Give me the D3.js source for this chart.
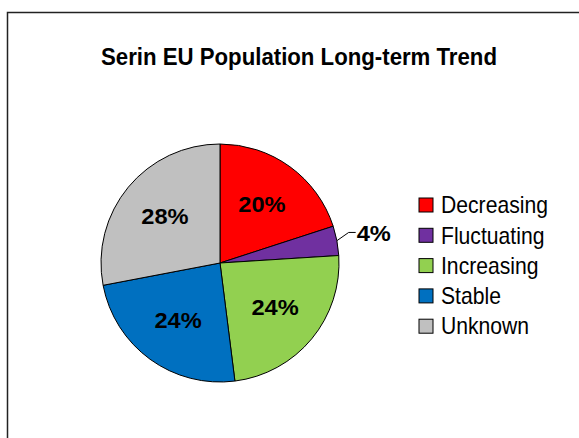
<!DOCTYPE html>
<html>
<head>
<meta charset="utf-8">
<script src="https://cdn.jsdelivr.net/npm/d3@7"></script>
<style>
  body { margin: 0; background: #fff; }
  svg { display: block; }
</style>
</head>
<body>
<div id="chart"></div>
<script>
const categories = ['Decreasing', 'Fluctuating', 'Increasing', 'Stable', 'Unknown'];
const shares = [20, 4, 24, 24, 28];
const colors = ['#FF0000', '#7030A0', '#92D050', '#0070C0', '#C0C0C0'];
const title = 'Serin EU Population Long-term Trend';

const width = 579;
const height = 438;
const cx = 220;
const cy = 263;
const radius = 119;
const font = 'Liberation Sans, Arial, sans-serif';

const svg = d3.select('#chart').append('svg')
  .attr('width', width)
  .attr('height', height);

// chart frame (right and bottom edges fall outside the picture)
svg.append('rect')
  .attr('x', 7.5).attr('y', 12.5)
  .attr('width', 700).attr('height', 500)
  .attr('fill', 'none')
  .attr('stroke', '#222')
  .attr('stroke-width', 1.5);

svg.append('text')
  .attr('x', 299).attr('y', 65)
  .attr('text-anchor', 'middle')
  .attr('font-family', font)
  .attr('font-weight', 'bold')
  .attr('font-size', 23.5)
  .attr('textLength', 396)
  .attr('lengthAdjust', 'spacingAndGlyphs')
  .text(title);

const data = categories.map((c, i) => ({ name: c, value: shares[i], color: colors[i] }));
const pie = d3.pie().sort(null).value(d => d.value);
const arcs = pie(data);
const arc = d3.arc().innerRadius(0).outerRadius(radius);
const labelArc = d3.arc().innerRadius(radius * 0.6).outerRadius(radius * 0.6);

const g = svg.append('g').attr('transform', `translate(${cx},${cy})`);

g.selectAll('path')
  .data(arcs).enter().append('path')
  .attr('d', arc)
  .attr('fill', d => d.data.color)
  .attr('stroke', '#000')
  .attr('stroke-width', 1);

const total = d3.sum(shares);
const small = d => d.value / total < 0.08;

// inside labels
g.selectAll('text.inside')
  .data(arcs.filter(d => !small(d.data))).enter().append('text')
  .attr('class', 'inside')
  .attr('transform', d => `translate(${labelArc.centroid(d)}) scale(1.05,1)`)
  .attr('text-anchor', 'middle')
  .attr('dy', '0.3em')
  .attr('font-family', font)
  .attr('font-weight', 'bold')
  .attr('font-size', 22.5)
  .text(d => `${d.data.value}%`);

// outside label with leader line for the thin slice
arcs.filter(d => small(d.data)).forEach((d) => {
  const mid = (d.startAngle + d.endAngle) / 2;
  const edge = [Math.sin(mid) * radius, -Math.cos(mid) * radius];
  const bend = [Math.sin(mid) * (radius + 12), -Math.cos(mid) * (radius + 12) - 6];
  const end = [bend[0] + 7, bend[1]];
  g.append('polyline')
    .attr('points', [edge, bend, end].map(p => p.join(',')).join(' '))
    .attr('fill', 'none')
    .attr('stroke', '#000')
    .attr('stroke-width', 1);
  g.append('text')
    .attr('transform', `translate(${end[0] + 1},${end[1]}) scale(1.05,1)`)
    .attr('dy', '0.36em')
    .attr('font-family', font)
    .attr('font-weight', 'bold')
    .attr('font-size', 22.5)
    .text(`${d.data.value}%`);
});

// legend
const legend = svg.append('g').attr('transform', 'translate(419,198)');
const row = legend.selectAll('g')
  .data(data).enter().append('g')
  .attr('transform', (d, i) => `translate(0,${i * 30.3})`);

row.append('rect')
  .attr('width', 14).attr('height', 14)
  .attr('fill', d => d.color)
  .attr('stroke', '#000')
  .attr('stroke-width', 1);

row.append('text')
  .attr('transform', 'translate(22,7) scale(0.92,1)')
  .attr('dy', '0.36em')
  .attr('font-family', font)
  .attr('font-size', 23)
  .text(d => d.name);
</script>
</body>
</html>
